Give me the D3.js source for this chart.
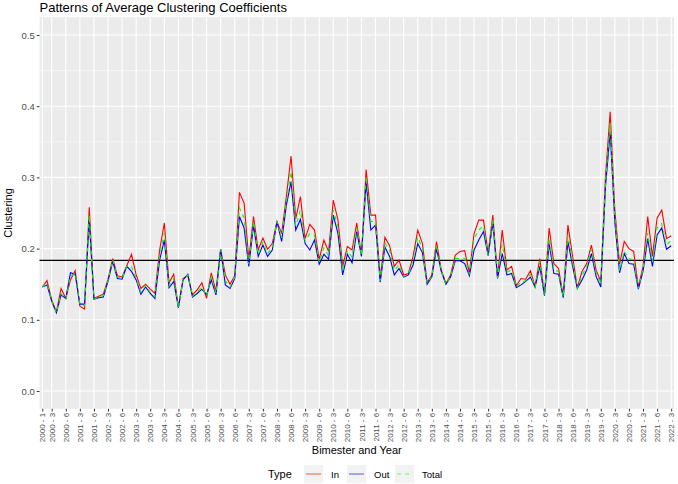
<!DOCTYPE html>
<html>
<head>
<meta charset="utf-8">
<script src="https://cdn.jsdelivr.net/npm/d3@7"></script>
<style>
  body { margin: 0; background: #fff; }
  svg text { font-family: "Liberation Sans", Arial, sans-serif; }
</style>
</head>
<body>
<svg id="svg" width="678" height="484"></svg>
<script>
// bimester categories, 2000 - 1 through 2022 - 3
let years = d3.range(2000, 2023);
let bimesters = [1, 2, 3, 4, 5, 6];
let categories = [];
years.forEach(y => bimesters.forEach(b => {
    if (y < 2022 || b <= 3) categories.push(y + " - " + b);
}));

let tickLabels = [
    "2000 - 1", "2000 - 3", "2000 - 6", "2001 - 3", "2001 - 6", "2002 - 3", "2002 - 6",
    "2003 - 3", "2003 - 6", "2004 - 3", "2004 - 6", "2005 - 3", "2005 - 6", "2006 - 3",
    "2006 - 6", "2007 - 3", "2007 - 6", "2008 - 3", "2008 - 6", "2009 - 3", "2009 - 6",
    "2010 - 3", "2010 - 6", "2011 - 3", "2011 - 6", "2012 - 3", "2012 - 6", "2013 - 3",
    "2013 - 6", "2014 - 3", "2014 - 6", "2015 - 3", "2015 - 6", "2016 - 3", "2016 - 6",
    "2017 - 3", "2017 - 6", "2018 - 3", "2018 - 6", "2019 - 3", "2019 - 6", "2020 - 3",
    "2020 - 6", "2021 - 3", "2021 - 6", "2022 - 3"
];

let inValues = [
    0.146, 0.155, 0.128, 0.111, 0.144, 0.130, 0.156, 0.169, 0.119, 0.115,
    0.258, 0.130, 0.133, 0.136, 0.157, 0.186, 0.162, 0.160, 0.176, 0.192,
    0.163, 0.144, 0.150, 0.143, 0.137, 0.198, 0.236, 0.152, 0.164, 0.118,
    0.158, 0.162, 0.135, 0.142, 0.152, 0.130, 0.166, 0.140, 0.199, 0.163,
    0.150, 0.162, 0.279, 0.264, 0.185, 0.245, 0.198, 0.215, 0.199, 0.207,
    0.238, 0.221, 0.273, 0.330, 0.242, 0.273, 0.214, 0.234, 0.226, 0.185,
    0.212, 0.196, 0.268, 0.240, 0.175, 0.203, 0.198, 0.236, 0.191, 0.311,
    0.247, 0.247, 0.158, 0.216, 0.204, 0.175, 0.184, 0.163, 0.165, 0.189,
    0.226, 0.207, 0.152, 0.163, 0.210, 0.170, 0.151, 0.163, 0.191, 0.196,
    0.197, 0.166, 0.221, 0.240, 0.240, 0.194, 0.247, 0.160, 0.226, 0.170,
    0.175, 0.148, 0.158, 0.157, 0.169, 0.147, 0.186, 0.136, 0.229, 0.179,
    0.172, 0.133, 0.233, 0.189, 0.145, 0.168, 0.179, 0.205, 0.170, 0.154,
    0.301, 0.392, 0.254, 0.178, 0.210, 0.200, 0.196, 0.146, 0.175, 0.245,
    0.189, 0.243, 0.254, 0.214, 0.218
];

let outValues = [
    0.146, 0.149, 0.126, 0.110, 0.135, 0.130, 0.166, 0.164, 0.122, 0.122,
    0.240, 0.129, 0.131, 0.132, 0.154, 0.182, 0.158, 0.157, 0.175, 0.168,
    0.156, 0.136, 0.146, 0.137, 0.130, 0.184, 0.212, 0.145, 0.154, 0.117,
    0.156, 0.164, 0.132, 0.137, 0.143, 0.135, 0.156, 0.135, 0.199, 0.149,
    0.144, 0.158, 0.245, 0.229, 0.175, 0.233, 0.189, 0.205, 0.189, 0.198,
    0.238, 0.210, 0.261, 0.294, 0.226, 0.241, 0.207, 0.198, 0.212, 0.178,
    0.192, 0.185, 0.247, 0.221, 0.163, 0.192, 0.180, 0.224, 0.189, 0.293,
    0.226, 0.233, 0.153, 0.202, 0.189, 0.163, 0.172, 0.160, 0.163, 0.177,
    0.207, 0.194, 0.150, 0.160, 0.200, 0.168, 0.150, 0.160, 0.183, 0.183,
    0.179, 0.162, 0.198, 0.212, 0.224, 0.190, 0.236, 0.158, 0.193, 0.163,
    0.165, 0.145, 0.149, 0.154, 0.160, 0.146, 0.175, 0.134, 0.207, 0.165,
    0.164, 0.131, 0.210, 0.175, 0.144, 0.156, 0.170, 0.193, 0.161, 0.146,
    0.287, 0.364, 0.236, 0.166, 0.193, 0.179, 0.178, 0.143, 0.168, 0.214,
    0.175, 0.219, 0.229, 0.199, 0.204
];

let totalValues = [
    0.146, 0.151, 0.127, 0.110, 0.137, 0.129, 0.161, 0.166, 0.121, 0.120,
    0.247, 0.129, 0.132, 0.134, 0.155, 0.184, 0.160, 0.158, 0.175, 0.175,
    0.158, 0.139, 0.148, 0.139, 0.132, 0.190, 0.222, 0.147, 0.158, 0.117,
    0.157, 0.163, 0.133, 0.139, 0.146, 0.133, 0.160, 0.137, 0.199, 0.155,
    0.146, 0.160, 0.257, 0.243, 0.178, 0.238, 0.192, 0.209, 0.193, 0.202,
    0.238, 0.215, 0.266, 0.308, 0.232, 0.254, 0.211, 0.221, 0.219, 0.181,
    0.201, 0.190, 0.254, 0.230, 0.169, 0.197, 0.188, 0.229, 0.190, 0.301,
    0.238, 0.238, 0.155, 0.208, 0.197, 0.169, 0.177, 0.161, 0.164, 0.184,
    0.216, 0.200, 0.151, 0.161, 0.205, 0.169, 0.150, 0.161, 0.186, 0.186,
    0.186, 0.164, 0.214, 0.226, 0.232, 0.191, 0.241, 0.159, 0.206, 0.167,
    0.170, 0.146, 0.153, 0.155, 0.164, 0.146, 0.182, 0.135, 0.215, 0.170,
    0.168, 0.132, 0.219, 0.181, 0.144, 0.162, 0.175, 0.199, 0.166, 0.150,
    0.293, 0.376, 0.245, 0.169, 0.196, 0.186, 0.184, 0.144, 0.171, 0.222,
    0.181, 0.229, 0.235, 0.205, 0.211
];

let meanClustering = 0.1835;
let yTicks = [0, 0.1, 0.2, 0.3, 0.4, 0.5];
let yMinorTicks = [0.05, 0.15, 0.25, 0.35, 0.45];

let types = ["In", "Out", "Total"];
let typeColours = ["#FF0000", "#0000FF", "#00FF00"];
let seriesList = [inValues, outValues, totalValues];

let svg = d3.select("#svg");

// panel box, in pixels
const panel = { left: 39.5, right: 674, top: 17.2, bottom: 408.8 };

let xScale = d3.scalePoint()
    .domain(categories)
    .range([panel.left, panel.right])
    .padding(0.6);

let yScale = d3.scaleLinear()
    .domain([-0.025, 0.525])
    .range([panel.bottom, panel.top]);

// panel background
svg.append("rect")
    .attr("x", panel.left)
    .attr("y", panel.top)
    .attr("width", panel.right - panel.left)
    .attr("height", panel.bottom - panel.top)
    .attr("fill", "#EBEBEB");

// grid lines
let grid = svg.append("g");
grid.selectAll(".minor-y")
    .data(yMinorTicks)
    .enter().append("line")
    .attr("x1", panel.left).attr("x2", panel.right)
    .attr("y1", d => yScale(d)).attr("y2", d => yScale(d))
    .attr("stroke", "#fff").attr("stroke-width", 0.55);
grid.selectAll(".major-y")
    .data(yTicks)
    .enter().append("line")
    .attr("x1", panel.left).attr("x2", panel.right)
    .attr("y1", d => yScale(d)).attr("y2", d => yScale(d))
    .attr("stroke", "#fff").attr("stroke-width", 1.1);
grid.selectAll(".major-x")
    .data(tickLabels)
    .enter().append("line")
    .attr("x1", d => xScale(d)).attr("x2", d => xScale(d))
    .attr("y1", panel.top).attr("y2", panel.bottom)
    .attr("stroke", "#fff").attr("stroke-width", 1.1);

// mean line
svg.append("line")
    .attr("x1", panel.left).attr("x2", panel.right)
    .attr("y1", yScale(meanClustering)).attr("y2", yScale(meanClustering))
    .attr("stroke", "#000").attr("stroke-width", 1.1);

// series lines
let line = d3.line()
    .x((d, i) => xScale(categories[i]))
    .y(d => yScale(d));

seriesList.forEach((values, k) => {
    svg.append("path")
        .datum(values)
        .attr("d", line)
        .attr("fill", "none")
        .attr("stroke", typeColours[k])
        .attr("stroke-width", 1.1)
        .attr("stroke-dasharray", types[k] == "Total" ? "4,4" : null);
});

// y axis
let yAxis = svg.append("g")
    .attr("transform", "translate(" + panel.left + ",0)")
    .call(d3.axisLeft(yScale).tickValues(yTicks).tickFormat(d3.format(".1f")).tickSize(2.7).tickPadding(2));
yAxis.select(".domain").remove();
yAxis.selectAll("line").attr("stroke", "#333").attr("stroke-width", 1);
yAxis.selectAll("text")
    .attr("fill", "#4D4D4D")
    .style("font-size", "9.5px");

// x axis
let xAxis = svg.append("g")
    .attr("transform", "translate(0," + panel.bottom + ")")
    .call(d3.axisBottom(xScale).tickValues(tickLabels).tickSize(2.7).tickPadding(2));
xAxis.select(".domain").remove();
xAxis.selectAll("line").attr("stroke", "#333").attr("stroke-width", 1);
xAxis.selectAll("text")
    .attr("fill", "#4D4D4D")
    .style("font-size", "8px")
    .attr("text-anchor", "end")
    .attr("dy", "0.32em")
    .attr("transform", "translate(0,4) rotate(-90)")
    .attr("x", 0)
    .attr("y", 0);

// titles
svg.append("text")
    .attr("x", panel.left)
    .attr("y", 12)
    .style("font-size", "13px")
    .attr("fill", "#000")
    .text("Patterns of Average Clustering Coefficients");

svg.append("text")
    .attr("transform", "translate(12," + ((panel.top + panel.bottom) / 2) + ") rotate(-90)")
    .attr("text-anchor", "middle")
    .style("font-size", "11px")
    .attr("fill", "#000")
    .text("Clustering");

svg.append("text")
    .attr("x", (panel.left + panel.right) / 2)
    .attr("y", 454)
    .attr("text-anchor", "middle")
    .style("font-size", "11px")
    .attr("fill", "#000")
    .text("Bimester and Year");

// legend
let legend = svg.append("g").attr("transform", "translate(0,474)");
legend.append("text")
    .attr("x", 268).attr("y", 4)
    .style("font-size", "11px")
    .attr("fill", "#000")
    .text("Type");

let keyX = [304, 347, 395];
types.forEach((t, k) => {
    legend.append("rect")
        .attr("x", keyX[k]).attr("y", -9)
        .attr("width", 19).attr("height", 18)
        .attr("fill", "#F2F2F2");
    legend.append("line")
        .attr("x1", keyX[k] + 2).attr("x2", keyX[k] + 17)
        .attr("y1", 0).attr("y2", 0)
        .attr("stroke", typeColours[k])
        .attr("stroke-opacity", 0.6)
        .attr("stroke-width", 1.1)
        .attr("stroke-dasharray", t == "Total" ? "4,4" : null);
    legend.append("text")
        .attr("x", keyX[k] + 27).attr("y", 3.5)
        .style("font-size", "9.5px")
        .attr("fill", "#000")
        .text(t);
});
</script>
</body>
</html>
